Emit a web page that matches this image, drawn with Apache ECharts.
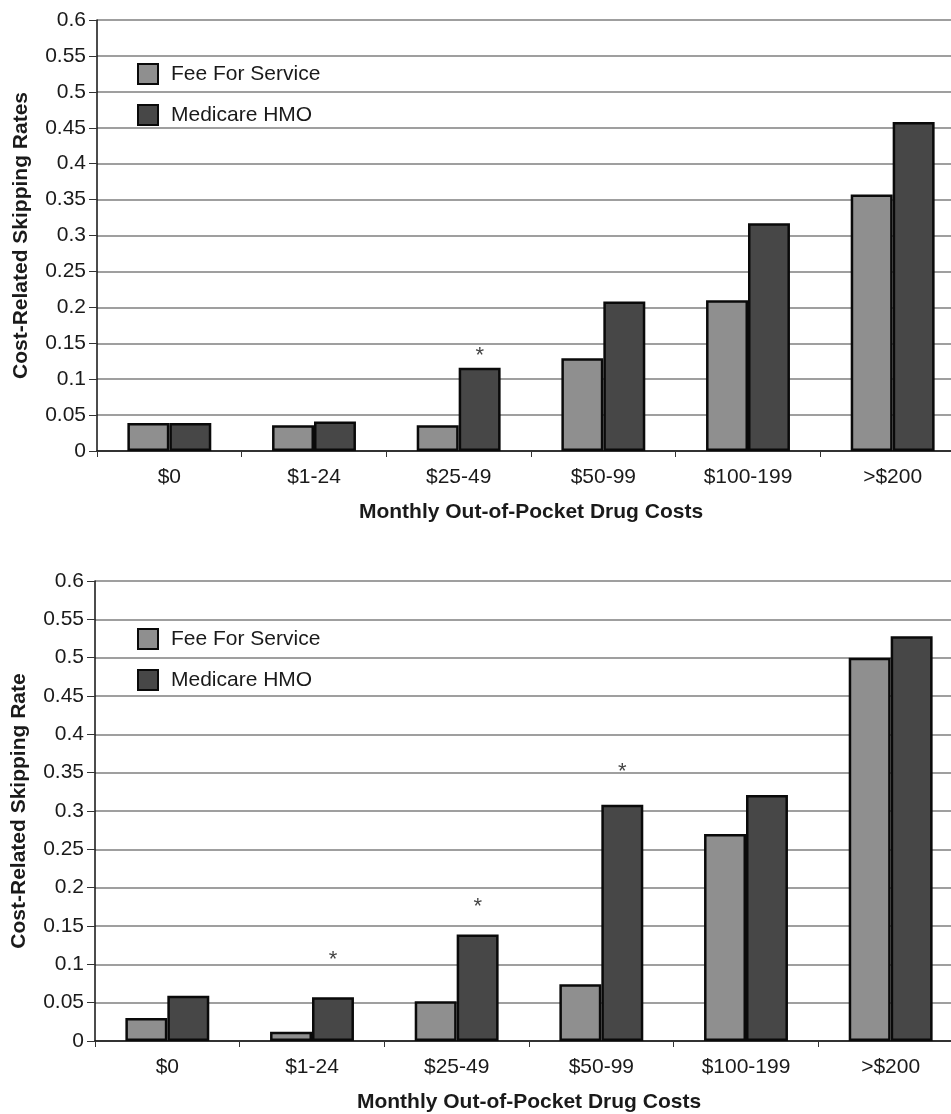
<!DOCTYPE html>
<html>
<head>
<meta charset="utf-8">
<script src="https://cdn.jsdelivr.net/npm/echarts@6/dist/echarts.min.js"></script>
<style>
  html, body { margin: 0; padding: 0; background: #fff; overflow: hidden; }
  #chart { width: 975px; height: 1114px; }
</style>
</head>
<body>
<div id="chart"></div>
<script>
// ---- data ----
const categories = ['$0', '$1-24', '$25-49', '$50-99', '$100-199', '>$200'];
const seriesNames = ['Fee For Service', 'Medicare HMO'];

const topFFS = [0.039, 0.036, 0.036, 0.129, 0.21, 0.357];
const topHMO = [0.039, 0.041, 0.116, 0.208, 0.317, 0.458];
const topStars = [null, null, 0.139, null, null, null];

const botFFS = [0.030, 0.012, 0.052, 0.074, 0.270, 0.500];
const botHMO = [0.059, 0.057, 0.139, 0.308, 0.321, 0.528];
const botStars = [null, 0.112, 0.182, 0.358, null, null];

const yTickLabels = ['0', '0.05', '0.1', '0.15', '0.2', '0.25', '0.3', '0.35', '0.4', '0.45', '0.5', '0.55', '0.6'];
const xTitle = 'Monthly Out-of-Pocket Drug Costs';
const topYTitle = 'Cost-Related Skipping Rates';
const botYTitle = 'Cost-Related Skipping Rate';

// ---- styles ----
const FONT = "'Liberation Sans', Arial, Helvetica, sans-serif";
const TXT = '#1a1a1a';
const FFS_COLOR = '#8f8f8f';
const HMO_COLOR = '#474747';

function xAxis(gridIndex) {
  return {
    type: 'category', gridIndex, data: categories,
    axisLine: { lineStyle: { color: '#111', width: 1.5 } },
    axisTick: { show: true, length: 6, lineStyle: { color: '#333', width: 1 } },
    axisLabel: { color: TXT, fontSize: 21, fontFamily: FONT, margin: 16 },
    name: xTitle, nameLocation: 'middle', nameGap: 51,
    nameTextStyle: { color: TXT, fontSize: 21, fontWeight: 'bold', fontFamily: FONT }
  };
}
function yAxis(gridIndex, title) {
  return {
    type: 'value', gridIndex, min: 0, max: 0.6, interval: 0.05,
    axisLine: { show: true, lineStyle: { color: '#111', width: 1.5 } },
    axisTick: { show: true, length: 8, lineStyle: { color: '#333', width: 1 } },
    axisLabel: {
      color: TXT, fontSize: 21, fontFamily: FONT, margin: 11,
      formatter: v => yTickLabels[Math.round(v / 0.05)]
    },
    splitLine: { show: true, lineStyle: { color: '#7f7f7f', width: 1.5 } },
    name: title, nameLocation: 'middle', nameGap: 65,
    nameTextStyle: { color: TXT, fontSize: 21, fontWeight: 'bold', fontFamily: FONT }
  };
}
function bar(name, data, color, idx) {
  return {
    name, type: 'bar', xAxisIndex: idx, yAxisIndex: idx, data,
    barGap: '0%', barCategoryGap: '42%',
    itemStyle: { color, borderColor: '#0a0a0a', borderWidth: 2.5 },
    emphasis: { disabled: true }, animation: false
  };
}
function stars(data, idx) {
  return {
    name: 'stars', type: 'scatter', xAxisIndex: idx, yAxisIndex: idx,
    data: data.map(v => v == null ? '-' : v),
    symbol: 'circle', symbolSize: 1,
    itemStyle: { color: 'rgba(0,0,0,0)' },
    label: {
      show: true, position: 'inside', formatter: '*', offset: [21, 5],
      color: '#111', fontSize: 22, fontFamily: FONT
    },
    silent: true, animation: false, z: 5
  };
}
function legend(top) {
  return {
    orient: 'vertical', left: 137, top, padding: 0,
    itemWidth: 20, itemHeight: 20, itemGap: 19,
    icon: 'rect', data: seriesNames,
    textStyle: { color: TXT, fontSize: 21, fontFamily: FONT, padding: [0, 0, 0, 8] },
    selectedMode: false
  };
}

const chart = echarts.init(document.getElementById('chart'), null, { renderer: 'canvas' });
chart.setOption({
  backgroundColor: '#fff',
  animation: false,
  legend: [legend(63), legend(628)],
  grid: [
    { left: 97, top: 20, width: 868, height: 431 },
    { left: 95, top: 581, width: 868, height: 460 }
  ],
  xAxis: [xAxis(0), xAxis(1)],
  yAxis: [yAxis(0, topYTitle), yAxis(1, botYTitle)],
  series: [
    bar(seriesNames[0], topFFS, FFS_COLOR, 0),
    bar(seriesNames[1], topHMO, HMO_COLOR, 0),
    stars(topStars, 0),
    bar(seriesNames[0], botFFS, FFS_COLOR, 1),
    bar(seriesNames[1], botHMO, HMO_COLOR, 1),
    stars(botStars, 1)
  ]
});
</script>
</body>
</html>
